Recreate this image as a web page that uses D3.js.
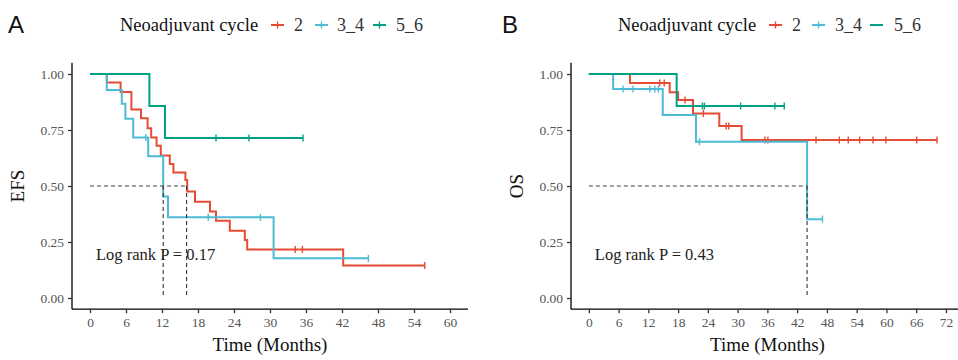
<!DOCTYPE html>
<html>
<head>
<meta charset="utf-8">
<script src="https://cdn.jsdelivr.net/npm/d3@7"></script>
<style>
  html, body { margin: 0; padding: 0; background: #fff; }
  svg { display: block; }
</style>
</head>
<body>
<svg id="chart" width="958" height="360"></svg>
<script>
// ---------- data ----------
const groups = ["2", "3_4", "5_6"];
const groupColors = ["#E64B35", "#4DBBD5", "#00A087"];

// Panel A: EFS
const efsTicksX = [0, 6, 12, 18, 24, 30, 36, 42, 48, 54, 60];
const efs2Times = [2.8, 5.1, 6.9, 8.5, 9.6, 10.2, 11.1, 11.8, 13.3, 13.9, 15.9, 16.2, 17.5, 20.0, 21.0, 23.3, 25.8, 26.2, 42.2];
const efs2Surv  = [0.962, 0.920, 0.842, 0.802, 0.758, 0.716, 0.680, 0.636, 0.598, 0.560, 0.527, 0.476, 0.430, 0.386, 0.345, 0.300, 0.259, 0.217, 0.145];
const efs2Censor = [34.2, 35.4, 55.8];
const efs2End = 55.8;
const efs34Times = [2.8, 5.3, 5.9, 7.2, 9.7, 12.2, 13.0, 30.6];
const efs34Surv  = [0.929, 0.867, 0.800, 0.717, 0.633, 0.453, 0.360, 0.177];
const efs34Censor = [9.3, 19.7, 28.4, 46.4];
const efs34End = 46.4;
const efs56Times = [9.9, 12.5];
const efs56Surv  = [0.857, 0.714];
const efs56Censor = [21.0, 26.5, 35.5];
const efs56End = 35.5;
const efsMedians = [12.2, 16.1];
const efsPText = "Log rank P = 0.17";

// Panel B: OS
const osTicksX = [0, 6, 12, 18, 24, 30, 36, 42, 48, 54, 60, 66, 72];
const os2Times = [8.3, 16.3, 18.0, 21.0, 26.3, 30.8];
const os2Surv  = [0.960, 0.918, 0.884, 0.824, 0.768, 0.705];
const os2Censor = [14.3, 15.2, 19.4, 23.1, 27.7, 28.2, 35.5, 36.1, 45.8, 50.5, 52.3, 54.6, 57.3, 59.9, 66.1, 70.2];
const os2End = 70.2;
const os34Times = [4.9, 14.9, 21.6, 44.0];
const os34Surv  = [0.933, 0.817, 0.698, 0.352];
const os34Censor = [6.9, 8.9, 12.3, 13.3, 14.0, 22.3, 47.1];
const os34End = 47.1;
const os56Times = [17.7];
const os56Surv  = [0.857];
const os56Censor = [22.9, 23.3, 30.6, 37.5, 39.4];
const os56End = 39.4;
const osMedians = [44.0];
const osPText = "Log rank P = 0.43";

const yTicks = [0, 0.25, 0.5, 0.75, 1];
const yTickLabels = ["0.00", "0.25", "0.50", "0.75", "1.00"];

// ---------- drawing ----------
const svg = d3.select("#chart");
const SERIF = "'Liberation Serif', 'Times New Roman', serif";

function survAt(times, surv, t) {
  let s = 1;
  for (let i = 0; i < times.length; i++) if (times[i] <= t) s = surv[i];
  return s;
}

function drawPanel(cfg) {
  const g = svg.append("g");
  const x = d3.scaleLinear().domain(cfg.xDomain).range(cfg.xRange);
  const y = d3.scaleLinear().domain([-0.05, 1.05]).range([309.2, 62.8]);

  // axes
  const yAxis = d3.axisLeft(y).tickValues(yTicks).tickFormat((d, i) => yTickLabels[i]).tickSize(4).tickPadding(4);
  const gy = g.append("g").attr("transform", `translate(${cfg.xRange[0]},0)`).call(yAxis);
  const xAxis = d3.axisBottom(x).tickValues(cfg.ticksX).tickSize(4).tickPadding(4);
  const gx = g.append("g").attr("transform", `translate(0,${309.2})`).call(xAxis);
  [gx, gy].forEach(a => {
    a.select(".domain").attr("stroke", "#000").attr("stroke-width", 1.3);
    a.selectAll(".tick line").attr("stroke", "#333").attr("stroke-width", 1.3);
    a.selectAll(".tick text").attr("font-family", SERIF).attr("font-size", 13.5).attr("fill", "#555");
  });
  gy.select(".domain").attr("d", `M0,${309.2}V${62.8}`);
  gx.select(".domain").attr("d", `M${cfg.xRange[0]},0H${cfg.xRange[1]}`);

  // curves
  const line = d3.line().x(d => x(d[0])).y(d => y(d[1])).curve(d3.curveStepAfter);
  cfg.series.forEach((s, i) => {
    const pts = [[0, 1]];
    s.times.forEach((t, j) => pts.push([t, s.surv[j]]));
    pts.push([s.end, s.surv[s.surv.length - 1]]);
    g.append("path").attr("d", line(pts)).attr("fill", "none")
      .attr("stroke", groupColors[i]).attr("stroke-width", 2);
    g.selectAll(null).data(s.censor).enter().append("line")
      .attr("x1", d => x(d)).attr("x2", d => x(d))
      .attr("y1", d => y(survAt(s.times, s.surv, d)) - 3.5)
      .attr("y2", d => y(survAt(s.times, s.surv, d)) + 3.5)
      .attr("stroke", groupColors[i]).attr("stroke-width", 1.4);
  });

  // median lines
  const maxMed = d3.max(cfg.medians);
  g.append("line").attr("x1", x(0)).attr("x2", x(maxMed)).attr("y1", y(0.5)).attr("y2", y(0.5))
    .attr("stroke", "#444").attr("stroke-width", 1.1).attr("stroke-dasharray", "4,3");
  cfg.medians.forEach(m => {
    g.append("line").attr("x1", x(m)).attr("x2", x(m)).attr("y1", y(0.5)).attr("y2", y(0))
      .attr("stroke", "#333").attr("stroke-width", 1.1).attr("stroke-dasharray", "4,3");
  });

  // p-value
  g.append("text").attr("x", x(0) + 6).attr("y", 260).text(cfg.pText)
    .attr("font-family", SERIF).attr("font-size", 16.5).attr("fill", "#222");

  // axis titles
  g.append("text").attr("x", (cfg.xRange[0] + Math.min(cfg.xRange[1], 958)) / 2 + cfg.titleShift)
    .attr("y", 351).attr("text-anchor", "middle").text("Time (Months)")
    .attr("font-family", SERIF).attr("font-size", 19).attr("fill", "#111");
  g.append("text").attr("transform", `translate(${cfg.yTitleX},186) rotate(-90)`)
    .attr("text-anchor", "middle").text(cfg.yTitle)
    .attr("font-family", SERIF).attr("font-size", 19).attr("fill", "#111");

  // panel letter
  g.append("text").attr("x", cfg.letterX).attr("y", 33).text(cfg.letter)
    .attr("font-family", "'Liberation Sans', Arial, sans-serif").attr("font-size", 24).attr("fill", "#111");

  // legend
  const lg = g.append("g");
  lg.append("text").attr("x", cfg.legendX).attr("y", 31).text("Neoadjuvant cycle")
    .attr("font-family", SERIF).attr("font-size", 18.5).attr("fill", "#111");
  cfg.legendItems.forEach((it, i) => {
    lg.append("line").attr("x1", it.sx).attr("x2", it.sx + 13).attr("y1", 25).attr("y2", 25)
      .attr("stroke", groupColors[i]).attr("stroke-width", 2);
    if (it.tick) {
      lg.append("line").attr("x1", it.sx + 6.5).attr("x2", it.sx + 6.5).attr("y1", 21.5).attr("y2", 28.5)
        .attr("stroke", groupColors[i]).attr("stroke-width", 1.4);
    }
    lg.append("text").attr("x", it.tx).attr("y", 31).text(groups[i])
      .attr("font-family", SERIF).attr("font-size", 18).attr("fill", "#333");
  });
}

drawPanel({
  xDomain: [-3, 63], xRange: [72, 468], ticksX: efsTicksX,
  series: [
    {times: efs2Times, surv: efs2Surv, censor: efs2Censor, end: efs2End},
    {times: efs34Times, surv: efs34Surv, censor: efs34Censor, end: efs34End},
    {times: efs56Times, surv: efs56Surv, censor: efs56Censor, end: efs56End}
  ],
  medians: efsMedians, pText: efsPText, yTitle: "EFS", yTitleX: 24, titleShift: 0,
  letter: "A", letterX: 8, legendX: 120,
  legendItems: [{sx: 271, tx: 294, tick: true}, {sx: 315, tx: 337, tick: true}, {sx: 373, tx: 396, tick: true}]
});

drawPanel({
  xDomain: [-3.6, 75.6], xRange: [571, 963.8], ticksX: osTicksX,
  series: [
    {times: os2Times, surv: os2Surv, censor: os2Censor, end: os2End},
    {times: os34Times, surv: os34Surv, censor: os34Censor, end: os34End},
    {times: os56Times, surv: os56Surv, censor: os56Censor, end: os56End}
  ],
  medians: osMedians, pText: osPText, yTitle: "OS", yTitleX: 523, titleShift: 3,
  letter: "B", letterX: 502, legendX: 618,
  legendItems: [{sx: 769, tx: 792, tick: true}, {sx: 812, tx: 835, tick: true}, {sx: 870, tx: 894, tick: false}]
});
</script>
</body>
</html>
